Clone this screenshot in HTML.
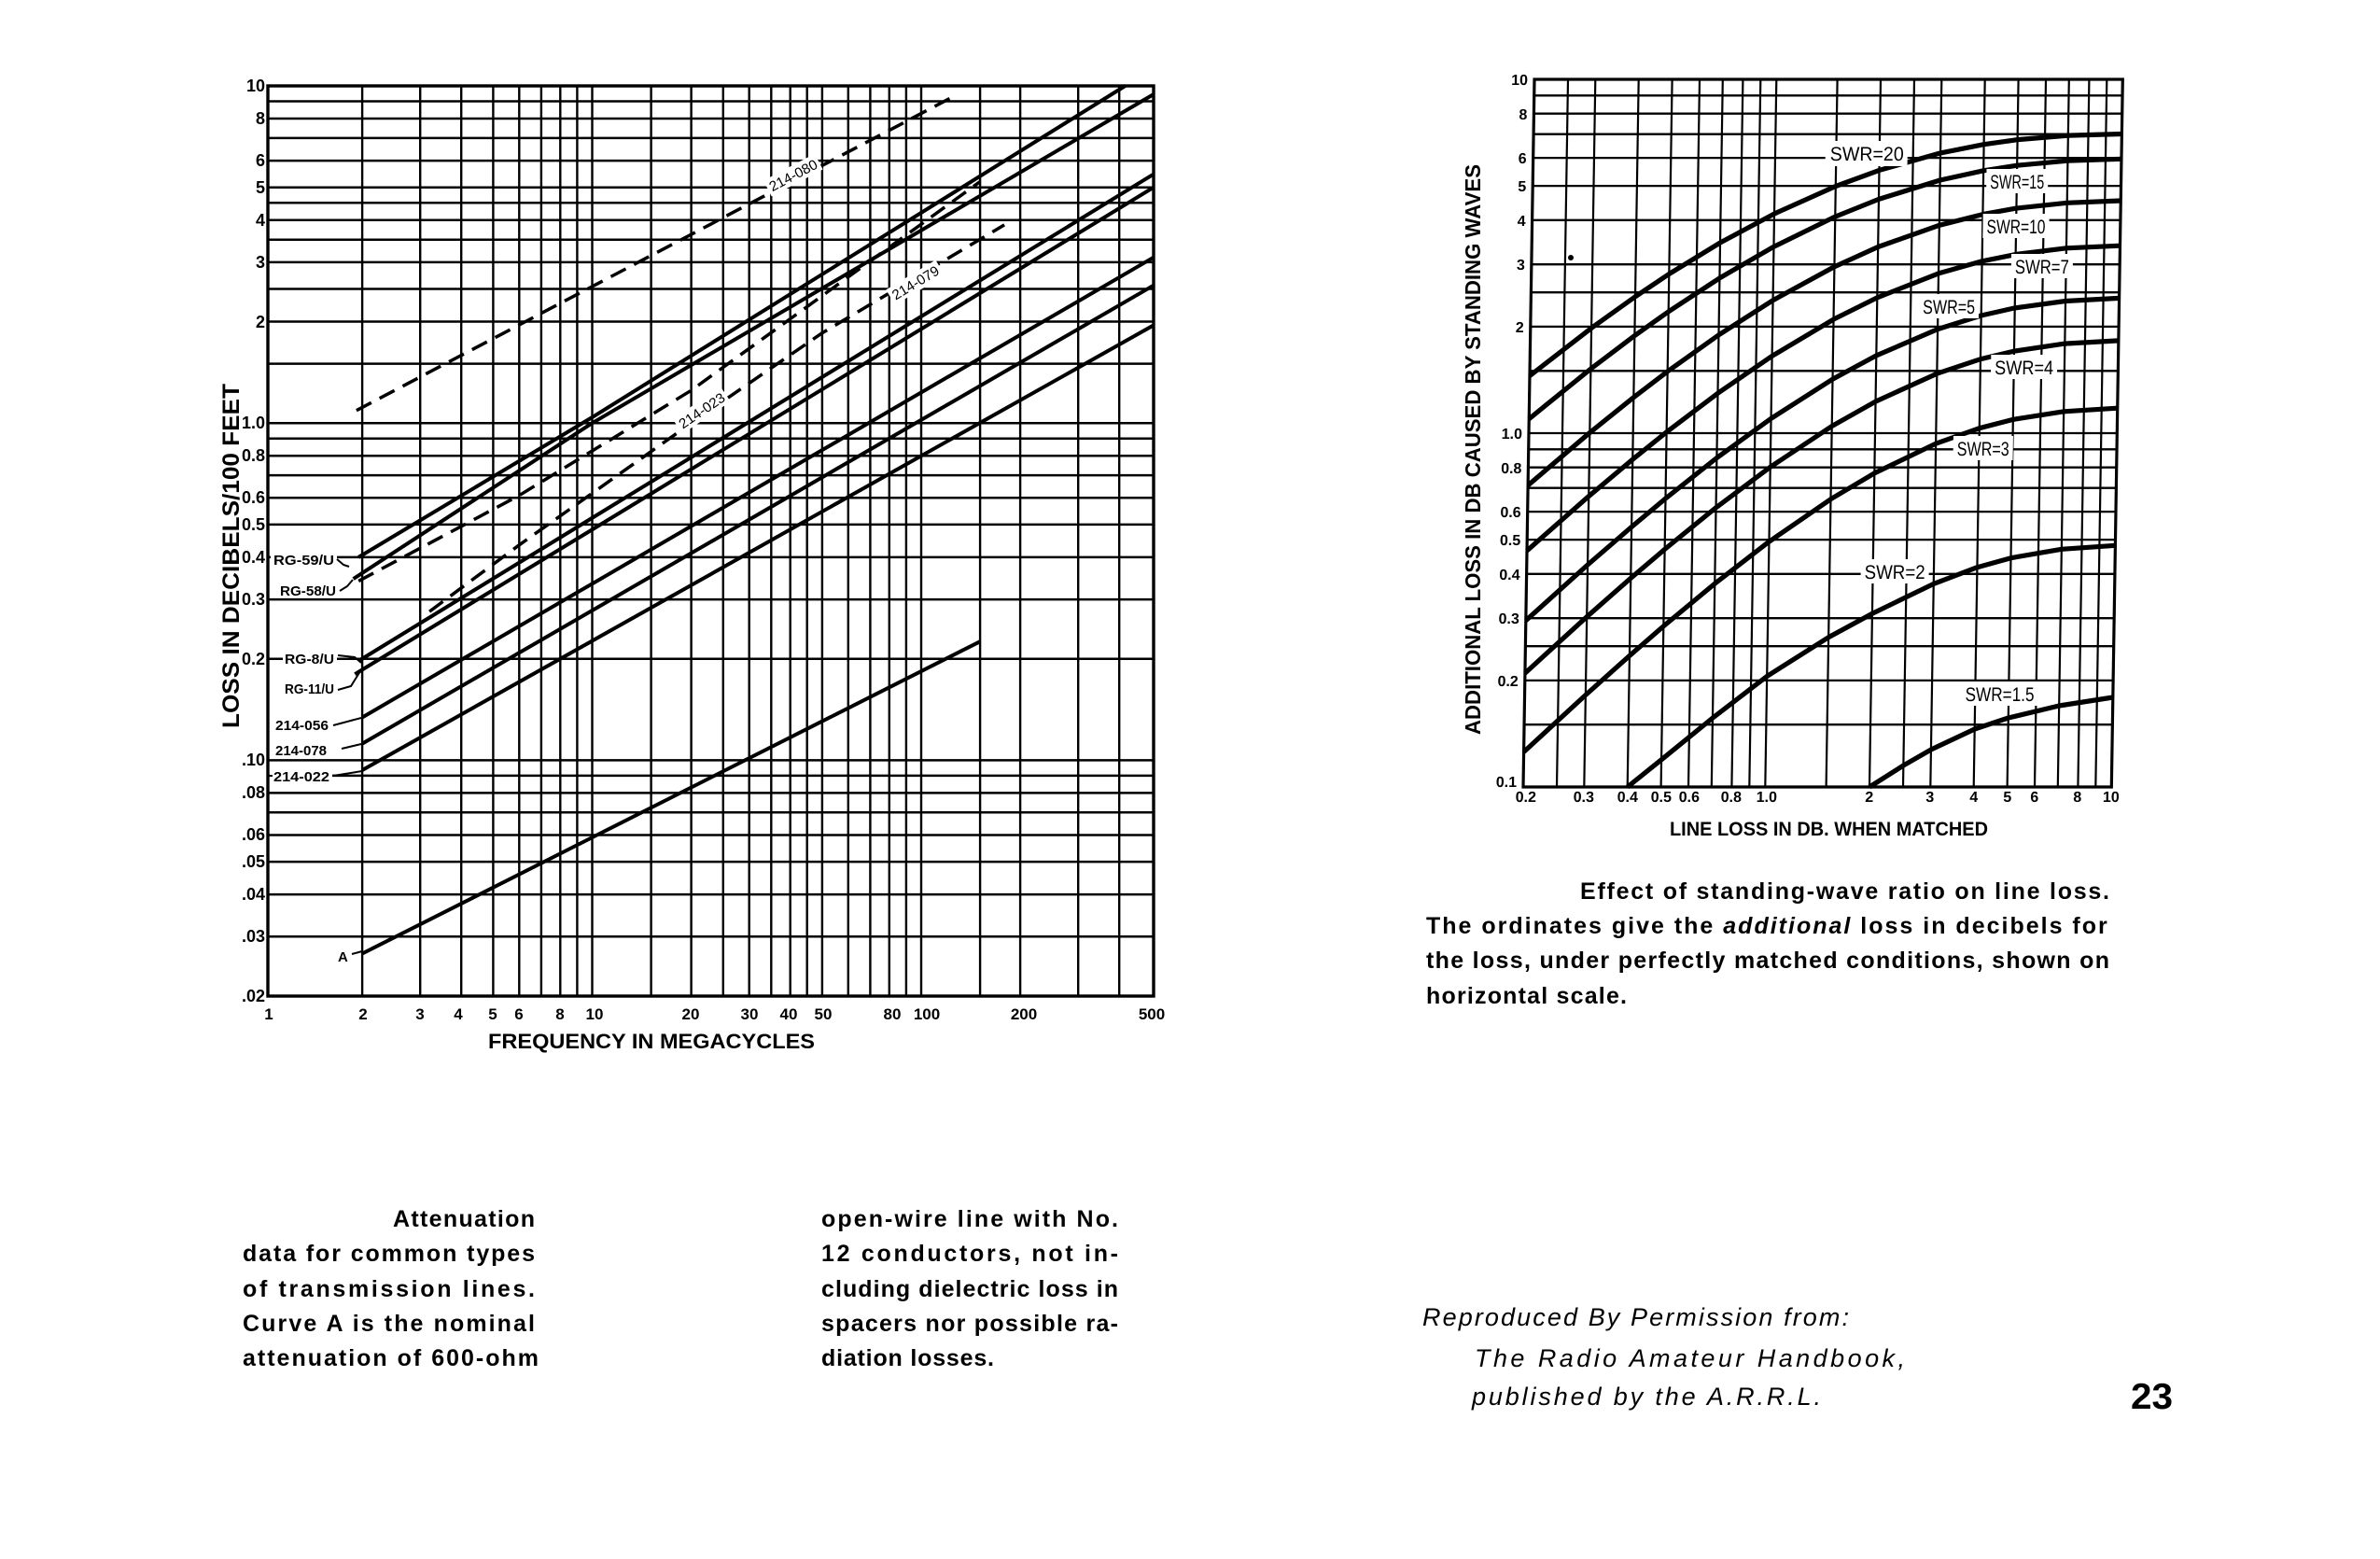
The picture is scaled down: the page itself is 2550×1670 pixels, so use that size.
<!DOCTYPE html>
<html>
<head>
<meta charset="utf-8">
<style>
html,body{margin:0;padding:0;background:#fff;}
body{width:2550px;height:1670px;overflow:hidden;}
svg{display:block;}
text{font-family:"Liberation Sans",sans-serif;fill:#000;}
</style>
</head>
<body>
<svg width="2550" height="1670" viewBox="0 0 2550 1670" xmlns="http://www.w3.org/2000/svg">
<rect width="2550" height="1670" fill="#fff"/>

<!-- ================= LEFT CHART ================= -->
<g stroke="#000" fill="none">
  <path stroke-width="2.5" d="M287 108.5H1236M287 127H1236M287 147.9H1236M287 172.1H1236M287 200.7H1236M287 217.3H1236M287 235.7H1236M287 256.7H1236M287 280.9H1236M287 309.5H1236M287 344.5H1236M287 389.6H1236M287 453.2H1236M287 469.7H1236M287 488.2H1236M287 509.1H1236M287 533.3H1236M287 561.9H1236M287 596.9H1236M287 642.1H1236M287 705.7H1236M287 814.4H1236M287 830.9H1236M287 849.4H1236M287 870.3H1236M287 894.5H1236M287 923.1H1236M287 958.1H1236M287 1003.3H1236"/>
  <path stroke-width="2.4" d="M388.1 92V1067M450.2 92V1067M494.2 92V1067M528.4 92V1067M556.3 92V1067M579.9 92V1067M600.3 92V1067M618.4 92V1067M634.5 92V1067M697.6 92V1067M740.6 92V1067M774.8 92V1067M802.7 92V1067M826.3 92V1067M846.7 92V1067M864.7 92V1067M880.9 92V1067M908.8 92V1067M932.4 92V1067M952.8 92V1067M970.9 92V1067M987 92V1067M1050.1 92V1067M1093.1 92V1067M1155.2 92V1067M1199.2 92V1067"/>
  <rect x="287" y="92" width="949" height="975" stroke-width="3.4"/>
</g>

<!-- label backgrounds (left) -->
<g fill="#fff">
  <rect x="290" y="590" width="71" height="17"/>
  <rect x="298" y="623" width="64" height="17"/>
  <rect x="303" y="697" width="58" height="17"/>
  <rect x="303" y="729" width="58" height="17"/>
  <rect x="293" y="768" width="62" height="17"/>
  <rect x="293" y="795" width="60" height="17"/>
  <rect x="289" y="823" width="67" height="17"/>
  <rect x="360" y="1015" width="14" height="17"/>
</g>

<!-- curves (left) -->
<g stroke="#000" fill="none" stroke-width="4" stroke-linejoin="round">
  <path d="M384.2 596.9L634.5 447L1205.6 92"/>
  <path d="M378.6 620.1L634.5 453.2L1236 101"/>
  <path d="M384.2 708L1236 186.6"/>
  <path d="M380.3 722.2L1236 200.7"/>
  <path d="M388.1 768.5L1236 275.7"/>
  <path d="M388.1 796.6L1236 305.7"/>
  <path d="M388.1 825L1236 348.4"/>
  <path d="M388.1 1021.5L1050.1 687.2"/>
</g>
<g stroke="#000" fill="none" stroke-width="3.5" stroke-dasharray="18 10" stroke-linejoin="round">
  <path d="M381.9 439.7L1024.8 101.7"/>
  <path d="M384.2 622.4L556.3 530.7L740.6 418.2L1050.1 194.6"/>
  <path d="M460.1 655.1L556.3 583.8L740.6 453.2L880.9 356.7L1076.1 240.9"/>
</g>

<!-- on-line labels for dashed -->
<g font-size="15" text-anchor="middle">
  <g transform="translate(850,188) rotate(-27.7)"><rect x="-31" y="-10" width="62" height="19" fill="#fff"/><text y="5" textLength="56" lengthAdjust="spacingAndGlyphs">214-080</text></g>
  <g transform="translate(752,440) rotate(-34)"><rect x="-31" y="-10" width="62" height="19" fill="#fff"/><text y="5" textLength="56" lengthAdjust="spacingAndGlyphs">214-023</text></g>
  <g transform="translate(981,303) rotate(-31)"><rect x="-31" y="-10" width="62" height="19" fill="#fff"/><text y="5" textLength="56" lengthAdjust="spacingAndGlyphs">214-079</text></g>
</g>

<!-- curve name labels (left) -->
<g font-size="15" font-weight="bold">
  <text x="293" y="605" textLength="65" lengthAdjust="spacingAndGlyphs">RG-59/U</text>
  <text x="300" y="638" textLength="60" lengthAdjust="spacingAndGlyphs">RG-58/U</text>
  <text x="305" y="711" textLength="53" lengthAdjust="spacingAndGlyphs">RG-8/U</text>
  <text x="305" y="743" textLength="53" lengthAdjust="spacingAndGlyphs">RG-11/U</text>
  <text x="295" y="782" textLength="57" lengthAdjust="spacingAndGlyphs">214-056</text>
  <text x="295" y="809" textLength="55" lengthAdjust="spacingAndGlyphs">214-078</text>
  <text x="293" y="837" textLength="60" lengthAdjust="spacingAndGlyphs">214-022</text>
  <text x="362" y="1030">A</text>
</g>
<g stroke="#000" fill="none" stroke-width="2">
  <path d="M361 599L368 605L374 607"/>
  <path d="M364 633L372 628L378 621"/>
  <path d="M362 702L380 704L387 710"/>
  <path d="M362 739L376 735L381 727L386 719"/>
  <path d="M357 777L387 769"/>
  <path d="M366 802L387 797"/>
  <path d="M288 831H292M357 831L388 826"/>
  <path d="M377 1022L388 1019"/>
</g>

<!-- left y tick labels -->
<g font-size="18" font-weight="bold" text-anchor="end">
  <text x="284" y="98">10</text>
  <text x="284" y="133">8</text>
  <text x="284" y="178">6</text>
  <text x="284" y="207">5</text>
  <text x="284" y="242">4</text>
  <text x="284" y="287">3</text>
  <text x="284" y="351">2</text>
  <text x="284" y="459">1.0</text>
  <text x="284" y="494">0.8</text>
  <text x="284" y="539">0.6</text>
  <text x="284" y="568">0.5</text>
  <text x="284" y="603">0.4</text>
  <text x="284" y="648">0.3</text>
  <text x="284" y="712">0.2</text>
  <text x="284" y="820">.10</text>
  <text x="284" y="855">.08</text>
  <text x="284" y="900">.06</text>
  <text x="284" y="929">.05</text>
  <text x="284" y="964">.04</text>
  <text x="284" y="1009">.03</text>
  <text x="284" y="1073">.02</text>
</g>
<!-- left x tick labels -->
<g font-size="17" font-weight="bold" text-anchor="middle">
  <text x="288" y="1092">1</text>
  <text x="389" y="1092">2</text>
  <text x="450" y="1092">3</text>
  <text x="491" y="1092">4</text>
  <text x="528" y="1092">5</text>
  <text x="556" y="1092">6</text>
  <text x="600" y="1092">8</text>
  <text x="637" y="1092">10</text>
  <text x="740" y="1092">20</text>
  <text x="803" y="1092">30</text>
  <text x="845" y="1092">40</text>
  <text x="882" y="1092">50</text>
  <text x="956" y="1092">80</text>
  <text x="993" y="1092">100</text>
  <text x="1097" y="1092">200</text>
  <text x="1234" y="1092">500</text>
</g>
<text x="523" y="1123" font-size="22" font-weight="bold" textLength="350" lengthAdjust="spacingAndGlyphs">FREQUENCY  IN  MEGACYCLES</text>
<text transform="translate(256,595.5) rotate(-90)" text-anchor="middle" font-size="25" font-weight="bold" textLength="369" lengthAdjust="spacingAndGlyphs">LOSS IN DECIBELS/100 FEET</text>

<!-- ================= RIGHT CHART ================= -->
<g transform="matrix(1 0 -0.01583 1 13.35 0)">
  <g stroke="#000" fill="none">
    <path stroke-width="2.3" d="M1632 102.3H2262.3M1632 121.7H2262.3M1632 143.7H2262.3M1632 169.1H2262.3M1632 199.1H2262.3M1632 235.8H2262.3M1632 283.2H2262.3M1632 313.2H2262.3M1632 349.9H2262.3M1632 397.3H2262.3M1632 464H2262.3M1632 481.3H2262.3M1632 500.7H2262.3M1632 522.7H2262.3M1632 548.1H2262.3M1632 578.1H2262.3M1632 614.8H2262.3M1632 662.2H2262.3M1632 692.2H2262.3M1632 728.9H2262.3M1632 776.2H2262.3"/>
    <path stroke-width="2.2" d="M1668 85V843M1697.3 85V843M1743.7 85V843M1779.6 85V843M1809 85V843M1833.8 85V843M1855.4 85V843M1874.3 85V843M1891.3 85V843M1956.6 85V843M2003 85V843M2039 85V843M2068.3 85V843M2114.7 85V843M2150.6 85V843M2180 85V843M2204.8 85V843M2226.4 85V843M2245.3 85V843"/>
    <rect x="1632" y="85" width="630.3" height="758" stroke-width="3.2"/>
  </g>

  <!-- SWR curves -->
  <g stroke="#000" fill="none" stroke-width="5.2" stroke-linejoin="round">
    <polyline points="1632,402.6 1697.3,351.4 1743.7,317.8 1779.6,293.5 1833.8,260 1891.3,229 1956.6,199.5 2003,182.4 2068.3,163.9 2114.7,154.7 2150.6,149.6 2204.8,145.1 2262.3,143.5"/>
    <polyline points="1632,448.7 1697.3,395.1 1743.7,359.6 1779.6,333.8 1833.8,297.9 1891.3,264.3 1956.6,232.1 2003,213.4 2068.3,193 2114.7,182.8 2150.6,177.2 2204.8,172.2 2262.3,170.3"/>
    <polyline points="1632,519.9 1697.3,463.5 1743.7,425.7 1779.6,397.9 1833.8,358.8 1891.3,321.7 1956.6,285.7 2003,264.5 2068.3,241.3 2114.7,229.6 2150.6,223.1 2204.8,217.3 2262.3,215"/>
    <polyline points="1632,589.9 1697.3,531.6 1743.7,492.1 1779.6,462.8 1833.8,421.3 1891.3,381.4 1956.6,342.1 2003,318.8 2068.3,292.9 2114.7,279.8 2150.6,272.5 2204.8,265.8 2262.3,263.2"/>
    <polyline points="1632,664.7 1697.3,605 1743.7,564.4 1779.6,534 1833.8,490.5 1891.3,448.3 1956.6,406.2 2003,380.9 2068.3,352.6 2114.7,338 2150.6,329.9 2204.8,322.5 2262.3,319.4"/>
    <polyline points="1632,721.1 1697.3,660.7 1743.7,619.3 1779.6,588.4 1833.8,543.8 1891.3,500.3 1956.6,456.5 2003,430.1 2068.3,400.2 2114.7,384.7 2150.6,376.1 2204.8,368.1 2262.3,364.9"/>
    <polyline points="1632,805.5 1697.3,744.5 1743.7,702.4 1779.6,670.8 1833.8,625.2 1891.3,580.2 1956.6,534.7 2003,506.9 2068.3,475.2 2114.7,458.7 2150.6,449.4 2204.8,440.8 2262.3,437.2"/>
    <polyline points="1743.7,843 1779.6,813.8 1833.8,769.1 1891.3,724.4 1956.6,682.7 2003,657.3 2068.3,625.4 2114.7,607.7 2150.6,597.7 2204.8,588.3 2262.3,584.3"/>
    <polyline points="2003,843 2039,820 2068.3,803 2114.7,781 2150.6,769 2204.8,756 2262.3,747"/>
  </g>

  <!-- SWR labels -->
  <g fill="#fff">
    <rect x="1945" y="151" width="88" height="27"/>
    <rect x="2118" y="181" width="66" height="26"/>
    <rect x="2115" y="229" width="71" height="26"/>
    <rect x="2146" y="272" width="66" height="26"/>
    <rect x="2048" y="315" width="64" height="26"/>
    <rect x="2126" y="380" width="71" height="26"/>
    <rect x="2087" y="467" width="64" height="26"/>
    <rect x="1990" y="599" width="73" height="26"/>
    <rect x="2100" y="730" width="82" height="26"/>
  </g>
  <g font-size="21">
    <text x="1950" y="172" textLength="79" lengthAdjust="spacingAndGlyphs">SWR=20</text>
    <text x="2122" y="202" textLength="58" lengthAdjust="spacingAndGlyphs">SWR=15</text>
    <text x="2119" y="250" textLength="63" lengthAdjust="spacingAndGlyphs">SWR=10</text>
    <text x="2150" y="293" textLength="58" lengthAdjust="spacingAndGlyphs">SWR=7</text>
    <text x="2052" y="336" textLength="56" lengthAdjust="spacingAndGlyphs">SWR=5</text>
    <text x="2130" y="401" textLength="63" lengthAdjust="spacingAndGlyphs">SWR=4</text>
    <text x="2091" y="488" textLength="56" lengthAdjust="spacingAndGlyphs">SWR=3</text>
    <text x="1994" y="620" textLength="65" lengthAdjust="spacingAndGlyphs">SWR=2</text>
    <text x="2104" y="751" textLength="74" lengthAdjust="spacingAndGlyphs">SWR=1.5</text>
  </g>

  <!-- right y tick labels -->
  <g font-size="16" font-weight="bold" text-anchor="end">
    <text x="1625" y="91">10</text>
    <text x="1625" y="128">8</text>
    <text x="1625" y="175">6</text>
    <text x="1625" y="205">5</text>
    <text x="1625" y="242">4</text>
    <text x="1625" y="289">3</text>
    <text x="1625" y="356">2</text>
    <text x="1625" y="470">1.0</text>
    <text x="1625" y="507">0.8</text>
    <text x="1625" y="554">0.6</text>
    <text x="1625" y="584">0.5</text>
    <text x="1625" y="621">0.4</text>
    <text x="1625" y="668">0.3</text>
    <text x="1625" y="735">0.2</text>
    <text x="1625" y="843">0.1</text>
  </g>
  <!-- right x tick labels -->
  <g font-size="16" font-weight="bold" text-anchor="middle">
    <text x="1635" y="859">0.2</text>
    <text x="1697" y="859">0.3</text>
    <text x="1744" y="859">0.4</text>
    <text x="1780" y="859">0.5</text>
    <text x="1810" y="859">0.6</text>
    <text x="1855" y="859">0.8</text>
    <text x="1893" y="859">1.0</text>
    <text x="2003" y="859">2</text>
    <text x="2068" y="859">3</text>
    <text x="2115" y="859">4</text>
    <text x="2151" y="859">5</text>
    <text x="2180" y="859">6</text>
    <text x="2226" y="859">8</text>
    <text x="2262" y="859">10</text>
  </g>
</g>
<circle cx="1683" cy="276" r="3" fill="#000"/>

<text x="1789" y="895" font-size="21" font-weight="bold" textLength="341" lengthAdjust="spacingAndGlyphs">LINE  LOSS  IN  DB. WHEN  MATCHED</text>
<text transform="translate(1586,481.5) rotate(-90)" text-anchor="middle" font-size="23" font-weight="bold" textLength="611" lengthAdjust="spacingAndGlyphs">ADDITIONAL  LOSS  IN  DB  CAUSED  BY  STANDING  WAVES</text>

<!-- ================= CAPTIONS ================= -->
<g font-size="25" font-weight="bold">
  <text x="421" y="1314" textLength="152" lengthAdjust="spacing">Attenuation</text>
  <text x="260" y="1351" textLength="313" lengthAdjust="spacing">data for common types</text>
  <text x="260" y="1389" textLength="313" lengthAdjust="spacing">of transmission lines.</text>
  <text x="260" y="1426" textLength="313" lengthAdjust="spacing">Curve A is the nominal</text>
  <text x="260" y="1463" textLength="317" lengthAdjust="spacing">attenuation of 600-ohm</text>

  <text x="880" y="1314" textLength="318" lengthAdjust="spacing">open-wire line with No.</text>
  <text x="880" y="1351" textLength="318" lengthAdjust="spacing">12 conductors, not in-</text>
  <text x="880" y="1389" textLength="318" lengthAdjust="spacing">cluding dielectric loss in</text>
  <text x="880" y="1426" textLength="318" lengthAdjust="spacing">spacers nor possible ra-</text>
  <text x="880" y="1463" textLength="185" lengthAdjust="spacing">diation losses.</text>

  <text x="1693" y="963" textLength="567" lengthAdjust="spacing">Effect of standing-wave ratio on line loss.</text>
  <text x="1528" y="1000" letter-spacing="2">The ordinates give the <tspan font-style="italic">additional</tspan> loss in decibels for</text>
  <text x="1528" y="1037" textLength="732" lengthAdjust="spacing">the loss, under perfectly matched conditions, shown on</text>
  <text x="1528" y="1075" textLength="215" lengthAdjust="spacing">horizontal scale.</text>
</g>

<g font-size="27" font-style="italic">
  <text x="1524" y="1420" textLength="457" lengthAdjust="spacing">Reproduced By Permission from:</text>
  <text x="1580" y="1464" textLength="461" lengthAdjust="spacing">The Radio Amateur Handbook,</text>
  <text x="1577" y="1505" textLength="374" lengthAdjust="spacing">published by the A.R.R.L.</text>
</g>
<text x="2283" y="1509" font-size="39" font-weight="bold" textLength="45" lengthAdjust="spacingAndGlyphs">23</text>
</svg>
</body>
</html>
